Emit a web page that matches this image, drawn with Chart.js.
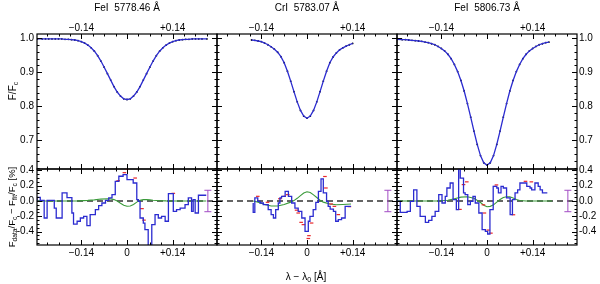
<!DOCTYPE html>
<html><head><meta charset="utf-8">
<script src="https://cdn.jsdelivr.net/npm/chart.js@4.4.1/dist/chart.umd.min.js"></script>
<style>
html,body{margin:0;padding:0;background:#fff;}
#wrap{position:relative;width:600px;height:284px;overflow:hidden;font-family:"Liberation Sans",Arial,Helvetica,sans-serif;color:#000;}
canvas{position:absolute;left:0;top:0;}
.t{position:absolute;font-size:10px;white-space:nowrap;line-height:1;transform:translate(-50%,-50%);}
.r{transform:translate(-50%,-50%) rotate(-90deg);}
sub{font-size:70%;vertical-align:-0.3em;line-height:0;}
</style></head><body>
<div id="wrap">
<canvas id="c0" width="600" height="284"></canvas>
<canvas id="c1" width="600" height="284"></canvas>
<canvas id="c2" width="600" height="284"></canvas>
<canvas id="c3" width="600" height="284"></canvas>
<canvas id="c4" width="600" height="284"></canvas>
<canvas id="c5" width="600" height="284"></canvas>
<div class="t" style="left:127px;top:8px">FeI&nbsp;&nbsp;5778.46 Å</div>
<div class="t" style="left:307px;top:8px">CrI&nbsp;&nbsp;5783.07 Å</div>
<div class="t" style="left:487px;top:8px">FeI&nbsp;&nbsp;5806.73 Å</div>
<div class="t r" style="left:13px;top:91px">F/F<sub>c</sub></div>
<div class="t r" style="left:12px;top:207px;font-size:9.5px">F<sub>data</sub>/F<sub>c</sub> − F<sub>fit</sub>/F<sub>c</sub> [%]</div>
<div class="t" style="left:306px;top:277px">λ − λ<sub>0</sub> [Å]</div>
</div>
<script>
// ---------- DATA ----------
const xTickTop = [-0.14, 0.14];
const xTickBottom = [-0.14, 0, 0.14];
const yTickTop = [0.7, 0.8, 0.9, 1.0];
const yTickBottom = [-0.4, -0.2, 0.0, 0.2, 0.4];

// Top panels: line profiles F/Fc
const prof1X = [-0.275,-0.26,-0.25,-0.24,-0.23,-0.22,-0.21,-0.20,-0.19,-0.18,-0.17,-0.16,-0.15,-0.14,-0.13,-0.12,-0.11,-0.10,-0.09,-0.08,-0.07,-0.06,-0.05,-0.04,-0.03,-0.02,-0.01,0.00,0.01,0.02,0.03,0.04,0.05,0.06,0.07,0.08,0.09,0.10,0.11,0.12,0.13,0.14,0.15,0.16,0.17,0.18,0.19,0.20,0.21,0.22,0.23,0.245];
const prof1Y = [0.998,0.998,0.998,0.998,0.998,0.998,0.998,0.998,0.997,0.997,0.996,0.995,0.993,0.990,0.986,0.980,0.972,0.962,0.949,0.933,0.915,0.896,0.877,0.858,0.842,0.830,0.822,0.820,0.822,0.830,0.842,0.858,0.877,0.896,0.915,0.933,0.949,0.962,0.972,0.980,0.986,0.990,0.993,0.995,0.996,0.997,0.997,0.998,0.998,0.998,0.998,0.998];
const prof2X = [-0.17,-0.16,-0.15,-0.14,-0.13,-0.12,-0.11,-0.10,-0.09,-0.08,-0.07,-0.06,-0.05,-0.04,-0.03,-0.02,-0.01,0.00,0.01,0.02,0.03,0.04,0.05,0.06,0.07,0.08,0.09,0.10,0.11,0.12,0.13,0.14];
const prof2Y = [0.995,0.994,0.992,0.990,0.986,0.981,0.975,0.968,0.959,0.946,0.928,0.903,0.874,0.843,0.813,0.788,0.771,0.765,0.771,0.788,0.813,0.843,0.874,0.903,0.928,0.945,0.957,0.966,0.972,0.977,0.981,0.985];
const prof3X = [-0.275,-0.26,-0.25,-0.24,-0.23,-0.22,-0.21,-0.20,-0.19,-0.18,-0.17,-0.16,-0.15,-0.14,-0.13,-0.12,-0.11,-0.10,-0.09,-0.08,-0.07,-0.06,-0.05,-0.04,-0.03,-0.02,-0.01,0.00,0.01,0.02,0.03,0.04,0.05,0.06,0.07,0.08,0.09,0.10,0.11,0.12,0.13,0.14,0.15,0.16,0.17,0.18,0.19];
const prof3Y = [0.997,0.996,0.996,0.995,0.994,0.993,0.992,0.991,0.989,0.987,0.984,0.981,0.976,0.970,0.963,0.953,0.940,0.923,0.902,0.876,0.845,0.808,0.768,0.727,0.688,0.655,0.634,0.627,0.634,0.655,0.688,0.727,0.768,0.808,0.845,0.876,0.902,0.923,0.940,0.953,0.963,0.970,0.976,0.981,0.984,0.987,0.989];

// Bottom panels: residuals [%] (binned, step histogram; x = left bin edge, last = right end)
const res1X = [-0.276,-0.266,-0.254,-0.245,-0.223,-0.217,-0.199,-0.184,-0.169,-0.164,-0.153,-0.143,-0.133,-0.123,-0.113,-0.097,-0.087,-0.077,-0.066,-0.056,-0.046,-0.036,-0.025,-0.012,0.000,0.019,0.030,0.035,0.040,0.050,0.055,0.065,0.076,0.086,0.096,0.106,0.117,0.127,0.142,0.152,0.163,0.178,0.188,0.198,0.203,0.209,0.219,0.229,0.243];
const res1Y = [-0.013,0.048,0.009,-0.222,0.009,-0.092,-0.222,0.105,0.044,-0.157,-0.301,-0.265,-0.222,-0.200,-0.322,-0.178,-0.113,-0.061,-0.026,0.009,0.040,0.083,0.257,0.323,0.344,0.279,0.235,0.018,-0.004,-0.222,-0.288,-0.374,-0.600,-0.309,-0.178,-0.222,-0.200,-0.265,0.096,-0.135,-0.113,-0.092,-0.048,0.040,-0.135,0.018,-0.157,0.075,0.075];
const res2X = [-0.165,-0.160,-0.151,-0.144,-0.134,-0.119,-0.110,-0.103,-0.096,-0.088,-0.083,-0.078,-0.067,-0.057,-0.047,-0.037,-0.027,-0.016,-0.006,0.004,0.009,0.019,0.027,0.035,0.043,0.050,0.060,0.065,0.071,0.081,0.088,0.096,0.106,0.117,0.127,0.135];
const res2Y = [-0.026,-0.148,0.040,-0.004,-0.026,-0.048,-0.113,-0.178,-0.222,-0.113,-0.026,0.040,0.061,0.126,0.061,-0.026,-0.092,-0.135,-0.222,-0.396,-0.265,-0.200,-0.113,-0.017,0.126,0.290,0.105,-0.004,-0.070,-0.105,-0.135,-0.265,-0.244,-0.222,-0.070,-0.070];
const res3X = [-0.276,-0.266,-0.245,-0.235,-0.225,-0.215,-0.205,-0.189,-0.179,-0.169,-0.159,-0.148,-0.138,-0.128,-0.123,-0.113,-0.104,-0.094,-0.087,-0.082,-0.072,-0.067,-0.059,-0.051,-0.043,-0.036,-0.025,-0.015,-0.005,0.002,0.009,0.019,0.030,0.035,0.043,0.050,0.060,0.071,0.078,0.086,0.094,0.101,0.111,0.122,0.132,0.137,0.147,0.157,0.163,0.170,0.178,0.185];
const res3Y = [0.017,-0.004,-0.148,-0.135,-0.004,0.144,-0.070,-0.200,-0.279,-0.253,-0.200,-0.135,0.083,-0.026,0.061,0.170,0.235,0.018,-0.113,0.480,0.300,0.105,0.083,-0.048,-0.004,0.061,-0.026,-0.157,-0.374,-0.396,-0.431,-0.113,0.192,0.170,0.105,0.192,0.170,0.040,-0.178,0.018,0.105,0.144,0.235,0.235,0.192,0.170,0.144,0.235,0.192,0.144,0.105,0.105];

// unbinned data points (red)
const red1X = [-0.027,-0.008,0.000,0.004,0.025,0.046,0.052,0.142];
const red1Y = [0.265,0.370,0.420,0.470,0.300,-0.100,-0.250,0.100];
const red2X = [-0.151,-0.121,-0.083,-0.070,-0.059,-0.032,-0.027,-0.018,-0.011,0.004,0.006,0.014,0.055,0.058,0.074,0.084,0.096,0.130];
const red2Y = [0.061,-0.017,0.030,0.061,0.083,-0.120,-0.157,-0.279,-0.309,-0.490,-0.453,-0.288,0.320,0.170,-0.039,-0.070,-0.178,-0.074];
const red3X = [-0.083,-0.072,-0.062,-0.011,-0.008,0.004,0.012,0.025,0.029,0.081,0.118,0.136];
const red3Y = [-0.110,0.214,0.250,-0.050,-0.157,-0.380,-0.420,0.190,0.210,-0.180,0.257,0.250];

// model differences (green)
const grn1X = [-0.276,-0.20,-0.15,-0.12,-0.10,-0.08,-0.06,-0.05,-0.04,-0.03,-0.02,-0.01,0.00,0.01,0.02,0.03,0.04,0.05,0.06,0.07,0.08,0.10,0.12,0.15,0.243];
const grn1Y = [0.0,0.0,0.002,0.008,0.015,0.025,0.030,0.028,0.018,0.0,-0.030,-0.055,-0.068,-0.065,-0.045,-0.015,0.008,0.018,0.018,0.014,0.010,0.004,0.001,0.0,0.0];
const grn2X = [-0.165,-0.15,-0.13,-0.11,-0.09,-0.07,-0.05,-0.04,-0.03,-0.02,-0.01,0.00,0.01,0.02,0.03,0.04,0.05,0.07,0.09,0.11,0.135];
const grn2Y = [0.0,-0.015,-0.045,-0.065,-0.065,-0.045,-0.015,0.005,0.035,0.070,0.105,0.120,0.110,0.080,0.045,0.010,-0.015,-0.040,-0.050,-0.045,-0.040];
const grn3X = [-0.276,-0.15,-0.12,-0.10,-0.08,-0.06,-0.04,-0.02,-0.01,0.00,0.01,0.02,0.03,0.04,0.05,0.06,0.07,0.08,0.09,0.10,0.12,0.20];
const grn3Y = [0.0,0.0,0.010,0.030,0.050,0.055,0.035,-0.020,-0.055,-0.075,-0.070,-0.050,-0.015,0.020,0.045,0.055,0.055,0.040,0.020,0.007,0.0,0.0];

// typical error bar (+/- in %)
const errX = [0.248, 0.248, 0.248];
const errHalf = [0.14, 0.14, 0.14];

// ---------- RENDER ----------
Chart.defaults.font.family = '"Liberation Sans", Arial, Helvetica, sans-serif';
Chart.defaults.font.size = 10;
Chart.defaults.color = '#000';

const XR = 0.276;
const TOPR = [0.6156, 1.0126];
const BOTR = [-0.575, 0.418];
const cols = [[37,217],[217,397],[397,577]];
const rows = [[34,169],[169,245]];
const BLUE = '#2b2bd0', RED = '#e8262a', GREEN = '#3a9a3a', PURPLE = '#a24cc4';

const pts = (xs, ys) => xs.map((x,i)=>({x:x, y:ys[i]}));
const fmtX = v => v===0 ? '0' : (v<0 ? '\u2212'+Math.abs(v).toFixed(2) : '+'+v.toFixed(2));

const frameTicks = {
  id:'frameTicks',
  afterDatasetsDraw(chart){
    const o = chart.options.plugins.frameTicks;
    const {ctx, chartArea:a} = chart;
    const xs = chart.scales.x, ys = chart.scales.y;
    ctx.save();
    ctx.strokeStyle = '#000';
    ctx.lineWidth = 1;
    ctx.beginPath();
    const yl = (v, len) => { const p = Math.round(ys.getPixelForValue(v))+0.5;
      ctx.moveTo(a.left, p); ctx.lineTo(a.left+len, p);
      ctx.moveTo(a.right, p); ctx.lineTo(a.right-len, p); };
    const xl = (v, len) => { const p = Math.round(xs.getPixelForValue(v))+0.5;
      ctx.moveTo(p, a.top); ctx.lineTo(p, a.top+len);
      ctx.moveTo(p, a.bottom); ctx.lineTo(p, a.bottom-len); };
    for (let v = o.yMin; v <= ys.max + 1e-9; v += o.yMinorStep) if (v >= ys.min) yl(v, 2.5);
    o.yMajor.forEach(v => yl(v, 5));
    for (let v = -0.28; v <= 0.28 + 1e-9; v += o.xMinorStep) if (v > xs.min && v < xs.max) xl(v, 2.5);
    [-0.14, 0, 0.14].forEach(v => xl(v, 5));
    ctx.stroke();
    ctx.lineWidth = 1.2;
    ctx.strokeRect(a.left, a.top, a.right-a.left, a.bottom-a.top);
    ctx.restore();
  }
};

function mk(id, c, r, datasets){
  const [L,R] = cols[c], [T,B] = rows[r];
  const top = r===0;
  const yr = top ? TOPR : BOTR;
  const yt = top ? yTickTop : yTickBottom;
  const yfmt = v => v.toFixed(1);
  const AXL=30, AXR=20, AXT=20, AXB=20;
  const noLines = {display:false, drawTicks:false};
  new Chart(document.getElementById(id), {
    type:'line',
    data:{datasets},
    plugins:[frameTicks],
    options:{
      responsive:false, animation:false, devicePixelRatio:1, events:[],
      layout:{padding:{left:L-AXL, right:600-R-AXR, top:T-AXT, bottom:284-B-AXB}},
      plugins:{legend:{display:false}, tooltip:{enabled:false},
        frameTicks:{yMajor:yt, yMin: top?0.62:-0.55, yMinorStep: top?0.02:0.05, xMinorStep:0.035}},
      scales:{
        x:{type:'linear', position:'bottom', min:-XR, max:XR, grid:noLines, border:{display:false},
           ticks:{display:!top, padding:2, callback:fmtX},
           afterBuildTicks:s=>{s.ticks = xTickBottom.map(v=>({value:v}));},
           afterFit:s=>{s.height=AXB;}},
        xt:{type:'linear', position:'top', min:-XR, max:XR, grid:noLines, border:{display:false},
           ticks:{display:top, padding:0, callback:fmtX},
           afterBuildTicks:s=>{s.ticks = xTickTop.map(v=>({value:v}));},
           afterFit:s=>{s.height=AXT;}},
        y:{type:'linear', position:'left', min:yr[0], max:yr[1], grid:noLines, border:{display:false},
           ticks:{display:c===0, padding:3, callback:yfmt},
           afterBuildTicks:s=>{s.ticks = yt.map(v=>({value:v}));},
           afterFit:s=>{s.width=AXL;}},
        yr:{type:'linear', position:'right', min:yr[0], max:yr[1], grid:noLines, border:{display:false},
           ticks:{display:c===2, padding:2, callback:yfmt},
           afterBuildTicks:s=>{s.ticks = yt.map(v=>({value:v}));},
           afterFit:s=>{s.width=AXR;}}
      }
    }
  });
}

function topSets(xs, ys){
  return [
    {data:pts(xs,ys), borderColor:BLUE, borderWidth:1.3, pointRadius:0, order:0},
    {data:pts(xs,ys), showLine:false, pointRadius:0.9, pointBackgroundColor:'#000', pointBorderWidth:0, order:1}
  ];
}
function botSets(i, rx, ry, redx, redy, gx, gy){
  return [
    {data:pts(rx,ry), stepped:'after', borderColor:BLUE, borderWidth:1.3, pointRadius:0, order:1},
    {data:pts(redx,redy), showLine:false, pointStyle:'line', pointRadius:1.8, pointBorderColor:RED, pointBorderWidth:1.2, order:2},
    {data:pts(gx,gy), borderColor:GREEN, borderWidth:1.1, pointRadius:0, order:3},
    {data:[{x:-XR,y:0},{x:XR,y:0}], borderColor:'#333', borderWidth:1.3, borderDash:[6,4], pointRadius:0, order:4},
    {data:[{x:errX[i],y:-errHalf[i]},{x:errX[i],y:errHalf[i]}], borderColor:PURPLE, borderWidth:1,
      pointStyle:'line', pointRadius:3.5, pointBorderColor:PURPLE, pointBorderWidth:1, order:0}
  ];
}

mk('c0',0,0,topSets(prof1X,prof1Y));
mk('c1',1,0,topSets(prof2X,prof2Y));
mk('c2',2,0,topSets(prof3X,prof3Y));
mk('c3',0,1,botSets(0,res1X,res1Y,red1X,red1Y,grn1X,grn1Y));
mk('c4',1,1,botSets(1,res2X,res2Y,red2X,red2Y,grn2X,grn2Y));
mk('c5',2,1,botSets(2,res3X,res3Y,red3X,red3Y,grn3X,grn3Y));
</script>
</body></html>
